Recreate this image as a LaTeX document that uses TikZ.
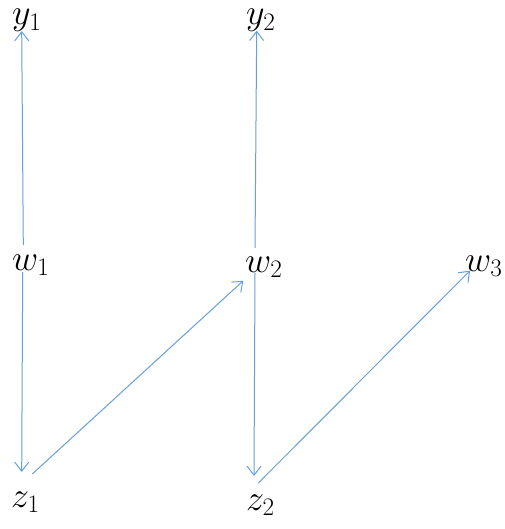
\RequirePackage{fix-cm}
\documentclass[tikz,border=0pt]{standalone}
\usetikzlibrary{arrows.meta}
\definecolor{arrowblue}{RGB}{100,160,218}
\begin{document}
\begin{tikzpicture}[x=1pt,y=-1pt,
  lbl/.style={inner sep=0pt,anchor=base west,font=\fontsize{36}{42}\selectfont},
  conn/.style={draw=arrowblue,line width=1pt,-{Straight Barb[length=9pt,width=14pt,line width=1pt]}}]
\useasboundingbox (0,0) rectangle (504,529);
\node[lbl] (y1) at (12,25) {$y_1$};
\node[lbl] (y2) at (246,25) {$y_2$};
\node[lbl] (w1) at (12,270) {$w_1$};
\node[lbl] (w2) at (245,272) {$w_2$};
\node[lbl] (w3) at (465,271) {$w_3$};
\node[lbl] (z1) at (11,507) {$z_1$};
\node[lbl] (z2) at (246,510) {$z_2$};
\draw[conn] ([shift={(11.3,-25)}]w1.base west) -- ([shift={(9.7,6)}]y1.base west);
\draw[conn] ([shift={(10.7,2)}]w1.base west) -- ([shift={(10.7,-35)}]z1.base west);
\draw[conn] ([shift={(21.3,-33)}]z1.base west) -- ([shift={(-1.7,8.7)}]w2.base west);
\draw[conn] ([shift={(10,-24)}]w2.base west) -- ([shift={(10.7,5.7)}]y2.base west);
\draw[conn] ([shift={(10,1)}]w2.base west) -- ([shift={(8,-34)}]z2.base west);
\draw[conn] ([shift={(12.3,-27)}]z2.base west) -- ([shift={(5,-0.3)}]w3.base west);
\end{tikzpicture}
\end{document}
